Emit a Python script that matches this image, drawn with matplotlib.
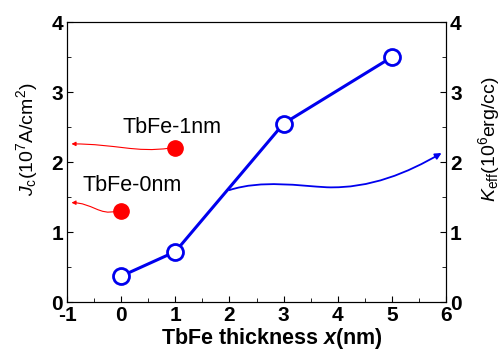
import matplotlib.pyplot as plt
from matplotlib.patches import FancyArrowPatch
from matplotlib.path import Path

plt.rcParams['font.family'] = ['Liberation Sans', 'DejaVu Sans']
plt.rcParams['mathtext.fontset'] = 'custom'
plt.rcParams['mathtext.rm'] = 'Liberation Sans'
plt.rcParams['mathtext.it'] = 'Liberation Sans:italic'
plt.rcParams['mathtext.bf'] = 'Liberation Sans:bold:italic'
plt.rcParams['axes.unicode_minus'] = False

# data
thickness = [0, 1, 3, 5]
jc = [0.37, 0.72, 2.55, 3.5]
keff_x = [0, 1]
keff = [1.3, 2.2]
keff_labels = ["TbFe-0nm", "TbFe-1nm"]
label_pos = [(-0.72, 1.67), (0.02, 2.49)]
arrow_end = [(-0.92, 1.42), (-0.92, 2.26)]


def curved_arrow(ax, start, end, color, lw, bend):
    # S-shaped cubic bezier between start and end
    (x0, y0), (x1, y1) = start, end
    dx = x1 - x0
    c1 = (x0 + 0.35 * dx, y0 - bend)
    c2 = (x0 + 0.55 * dx, y1)
    p = Path([start, c1, c2, end], [Path.MOVETO, Path.CURVE4, Path.CURVE4, Path.CURVE4])
    ax.add_patch(FancyArrowPatch(path=p, arrowstyle='-|>', color=color,
                                 lw=lw, mutation_scale=6))


fig, ax = plt.subplots(figsize=(5.01, 3.52), dpi=100)
fig.subplots_adjust(left=0.134, right=0.89, top=0.937, bottom=0.142)

ax.plot(thickness, jc, '-o', color='#0000ee', lw=2.2, ms=11.5,
        mfc='white', mec='#0000ee', mew=2, zorder=3)
ax.plot(keff_x, keff, 'o', color='red', ms=11, zorder=3)

for x, y, lab, pos, end in zip(keff_x, keff, keff_labels, label_pos, arrow_end):
    ax.text(pos[0], pos[1], lab, fontsize=15.5, ha='left', va='center')
    curved_arrow(ax, (x - 0.1, y), end, 'red', 0.8, 0.07)

# blue arrow to the right axis
verts = [(2.0, 1.6), (2.6, 1.75), (3.3, 1.66), (3.8, 1.64),
         (4.6, 1.62), (5.3, 1.85), (5.92, 2.13)]
codes = [Path.MOVETO, Path.CURVE4, Path.CURVE4, Path.CURVE4,
         Path.CURVE4, Path.CURVE4, Path.CURVE4]
arr = FancyArrowPatch(path=Path(verts, codes), arrowstyle='-|>',
                      color='#0000ee', lw=1.3, mutation_scale=9)
ax.add_patch(arr)

ax.set_xlim(-1, 6)
ax.set_ylim(0, 4)
ax.set_xticks(range(-1, 7))
ax.set_yticks(range(0, 5))
ax.set_xticks([i + 0.5 for i in range(-1, 6)], minor=True)
ax.set_yticks([i + 0.5 for i in range(0, 4)], minor=True)
ax.tick_params(which='both', direction='in', top=False)
ax.tick_params(which='major', length=4, labelsize=15, pad=3)
ax.tick_params(which='minor', length=3)
for t in ax.get_xticklabels() + ax.get_yticklabels():
    t.set_fontweight('bold')

ax.set_xlabel(r'TbFe thickness $\mathbf{x}$(nm)', fontsize=15.5,
              fontweight='bold')
ax.xaxis.set_label_coords(0.54, -0.085)
ax.set_ylabel(r'$\mathit{J}_{\rm c}$(10$^7$A/cm$^2$)', fontsize=14)
ax.yaxis.set_label_coords(-0.072, 0.58)

ax2 = ax.twinx()
ax2.set_ylim(0, 4)
ax2.set_yticks(range(0, 5))
ax2.set_yticks([i + 0.5 for i in range(0, 4)], minor=True)
ax2.tick_params(which='both', direction='in')
ax2.tick_params(which='major', length=4, labelsize=15, pad=3)
ax2.tick_params(which='minor', length=3)
for t in ax2.get_yticklabels():
    t.set_fontweight('bold')
ax2.set_ylabel(r'$\mathit{K}_{\rm eff}$(10$^6$erg/cc)', fontsize=14)
ax2.yaxis.set_label_coords(1.08, 0.58)

fig.savefig('out.png', dpi=100)
